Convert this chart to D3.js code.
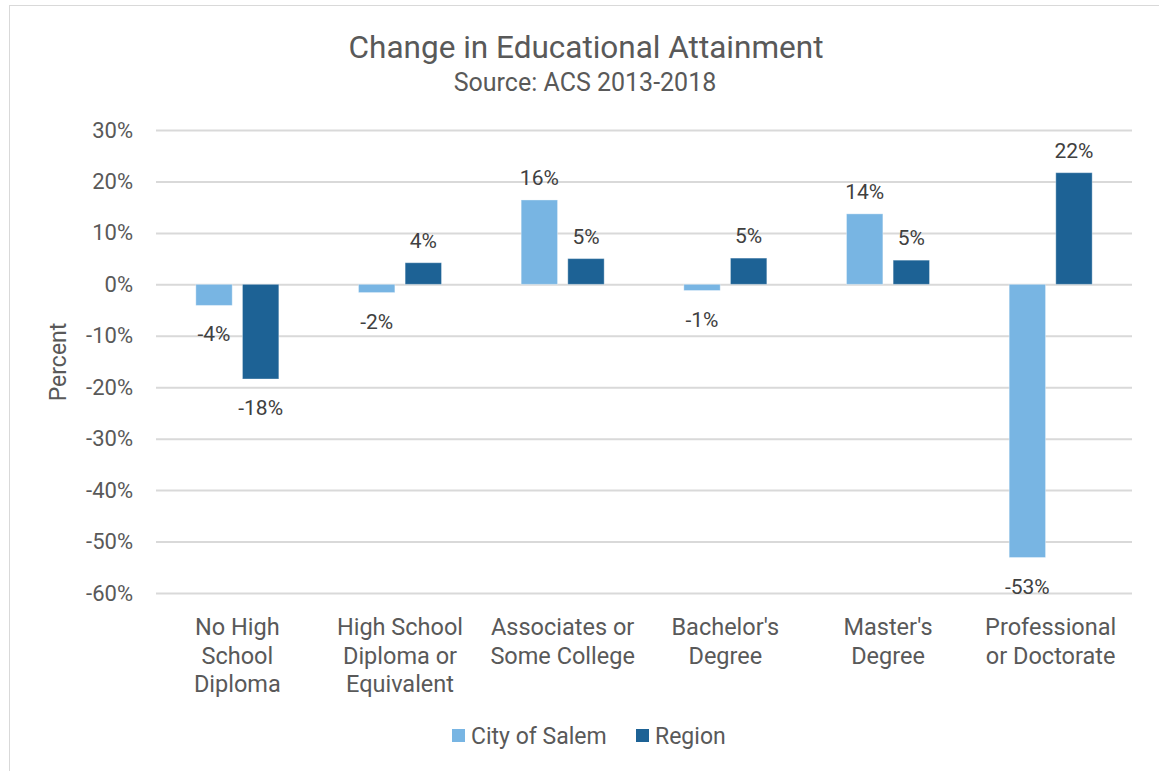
<!DOCTYPE html>
<html>
<head>
<meta charset="utf-8">
<script src="https://cdn.jsdelivr.net/npm/d3@7"></script>
<style>
  html, body { margin: 0; padding: 0; background: #fff; }
  svg { display: block; }
  text { font-family: Roboto, "Noto Sans", sans-serif; }
</style>
</head>
<body>
<svg id="chart" width="1159" height="771"></svg>
<script>
const categories = [
  ["No High", "School", "Diploma"],
  ["High School", "Diploma or", "Equivalent"],
  ["Associates or", "Some College"],
  ["Bachelor's", "Degree"],
  ["Master's", "Degree"],
  ["Professional", "or Doctorate"]
];
const seriesNames = ["City of Salem", "Region"];
const salemValues = [-4.1, -1.6, 16.4, -1.2, 13.7, -53.1];
const regionValues = [-18.4, 4.2, 5.0, 5.1, 4.7, 21.7];
const yTicks = [30, 20, 10, 0, -10, -20, -30, -40, -50, -60];
const colors = ["#78b5e3", "#1d6295"];

const svg = d3.select("#chart");
const W = 1159, H = 771;

// outer chart border
svg.append("rect").attr("x", 9.5).attr("y", 5.5).attr("width", W + 20).attr("height", H + 20)
  .attr("fill", "#fff").attr("stroke", "#d9d9d9").attr("stroke-width", 1);

const plot = { left: 156, right: 1132, top: 130, bottom: 593 };

const y = d3.scaleLinear().domain([-60, 30]).range([plot.bottom, plot.top]);
const x = d3.scaleBand().domain(d3.range(categories.length)).range([plot.left, plot.right]).padding(0);
const xs = d3.scaleBand().domain(seriesNames).range([-41.5, 41.5]).paddingInner(0.22);

const fmt = v => Math.round(v).toString() + "%";

// title
svg.append("text").attr("x", 586).attr("y", 58).attr("text-anchor", "middle")
  .attr("font-size", 31.5).attr("fill", "#595959").text("Change in Educational Attainment");
svg.append("text").attr("x", 585).attr("y", 91).attr("text-anchor", "middle")
  .attr("font-size", 25).attr("fill", "#595959").text("Source: ACS 2013-2018");

// gridlines + y axis
const yAxis = d3.axisLeft(y).tickValues(yTicks).tickSize(-(plot.right - plot.left))
  .tickFormat(d => d + "%");
const gy = svg.append("g").attr("transform", `translate(${plot.left},0)`).call(yAxis);
gy.select(".domain").remove();
gy.selectAll(".tick line").attr("stroke", "#d9d9d9").attr("stroke-width", 2);
gy.selectAll(".tick text").attr("font-size", 22).attr("fill", "#595959")
  .attr("font-family", "Roboto, sans-serif").attr("x", -23);

// y axis title
svg.append("text").attr("transform", "translate(66,362) rotate(-90)").attr("text-anchor", "middle")
  .attr("font-size", 23).attr("fill", "#595959").text("Percent");

// bars
const data = [];
categories.forEach((c, i) => {
  data.push({ i, s: seriesNames[0], v: salemValues[i], color: colors[0] });
  data.push({ i, s: seriesNames[1], v: regionValues[i], color: colors[1] });
});
const cx = i => x(i) + x.bandwidth() / 2;

svg.append("g").selectAll("rect").data(data).join("rect")
  .attr("x", d => cx(d.i) + xs(d.s))
  .attr("width", xs.bandwidth())
  .attr("y", d => y(Math.max(0, d.v)))
  .attr("height", d => Math.abs(y(d.v) - y(0)))
  .attr("fill", d => d.color)
  .attr("stroke", "#ffffff").attr("stroke-opacity", 0.35).attr("stroke-width", 1);

// data labels
svg.append("g").selectAll("text").data(data).join("text")
  .attr("x", d => cx(d.i) + xs(d.s) + xs.bandwidth() / 2)
  .attr("y", d => d.v >= 0 ? y(d.v) - 15 : y(d.v) + 36)
  .attr("text-anchor", "middle")
  .attr("font-size", 21).attr("fill", "#404040")
  .text(d => fmt(d.v));

// category labels
const gx = svg.append("g");
categories.forEach((lines, i) => {
  const t = gx.append("text").attr("x", cx(i)).attr("y", 635).attr("text-anchor", "middle")
    .attr("font-size", 23.5).attr("fill", "#595959");
  lines.forEach((ln, k) => {
    t.append("tspan").attr("x", cx(i)).attr("dy", k === 0 ? 0 : 28.5).text(ln);
  });
});

// legend
const legend = [
  { name: seriesNames[0], color: colors[0], x: 452 },
  { name: seriesNames[1], color: colors[1], x: 636 }
];
const lg = svg.append("g");
legend.forEach(l => {
  lg.append("rect").attr("x", l.x).attr("y", 729).attr("width", 13).attr("height", 13).attr("fill", l.color);
  lg.append("text").attr("x", l.x + 19).attr("y", 744).attr("font-size", 23).attr("fill", "#595959").text(l.name);
});
</script>
</body>
</html>
